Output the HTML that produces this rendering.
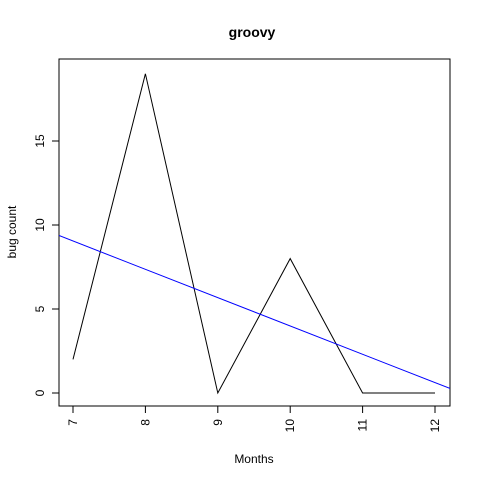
<!DOCTYPE html>
<html><head><meta charset="utf-8"><style>body{margin:0;background:#fff}svg{display:block;font-family:"Liberation Sans",Arial,sans-serif}</style></head>
<body>
<svg id="c" width="480" height="480" xmlns="http://www.w3.org/2000/svg">
<rect width="480" height="480" fill="#fff"/>
<text x="252" y="37" text-anchor="middle" font-size="14" font-weight="bold">groovy</text>
<text x="254" y="463" text-anchor="middle" font-size="12">Months</text>
<text transform="translate(16,232) rotate(-90)" text-anchor="middle" font-size="12">bug count</text>
<rect x="59" y="59" width="391" height="347" fill="none" stroke="#000"/>
<g id="xt"></g><g id="yt"></g><g id="series"></g>
</svg>
<script>
const months = [7, 8, 9, 10, 11, 12];
const bugs = [2, 19, 0, 8, 0, 0];
const yTicks = [0, 5, 10, 15];
const L=59,R=450,T=59,B=406;
const sx = m => 73 + (m - 7) * (435 - 73) / 5;
const sy = v => 393 - v * (393 - 141) / 15;
const NS="http://www.w3.org/2000/svg";
function mk(tag, attrs, parent){const e=document.createElementNS(NS,tag);for(const k in attrs)e.setAttribute(k,attrs[k]);parent.appendChild(e);return e;}
const xt=document.getElementById('xt'), yt=document.getElementById('yt'), sg=document.getElementById('series');
months.forEach(m=>{
  const l=mk('line',{x1:sx(m),x2:sx(m),y1:B,y2:B+7,stroke:'#000'},xt);
  
  
  const t=mk('text',{transform:`translate(${sx(m)+4},${B+13}) rotate(-90)`,'text-anchor':'end','font-size':12},xt);
  t.textContent=m;
  
  
});
yTicks.forEach(v=>{
  const l=mk('line',{x1:L-7,x2:L,y1:sy(v),y2:sy(v),stroke:'#000'},yt);
  
  
  const t=mk('text',{transform:`translate(${L-15},${sy(v)}) rotate(-90)`,'text-anchor':'middle','font-size':12},yt);
  t.textContent=v;
  
  
});
const p=mk('polyline',{points:months.map((m,i)=>sx(m)+','+sy(bugs[i])).join(' '),fill:'none',stroke:'#000'},sg);


// least squares fit
const n=months.length, mx=months.reduce((a,b)=>a+b)/n, my=bugs.reduce((a,b)=>a+b)/n;
let sxy=0,sxx=0;months.forEach((m,i)=>{sxy+=(m-mx)*(bugs[i]-my);sxx+=(m-mx)*(m-mx);});
const slope=sxy/sxx, f=m=>my+slope*(m-mx);
const inv=x=>7+(x-73)*5/(435-73);
const cp=mk('clipPath',{id:'clip'},sg);mk('rect',{x:L,y:T,width:R-L,height:B-T},cp);
const r=mk('line',{x1:L,y1:sy(f(inv(L))),x2:R,y2:sy(f(inv(R))),stroke:'#0000ff','clip-path':'url(#clip)'},sg);


</script>
</body></html>
